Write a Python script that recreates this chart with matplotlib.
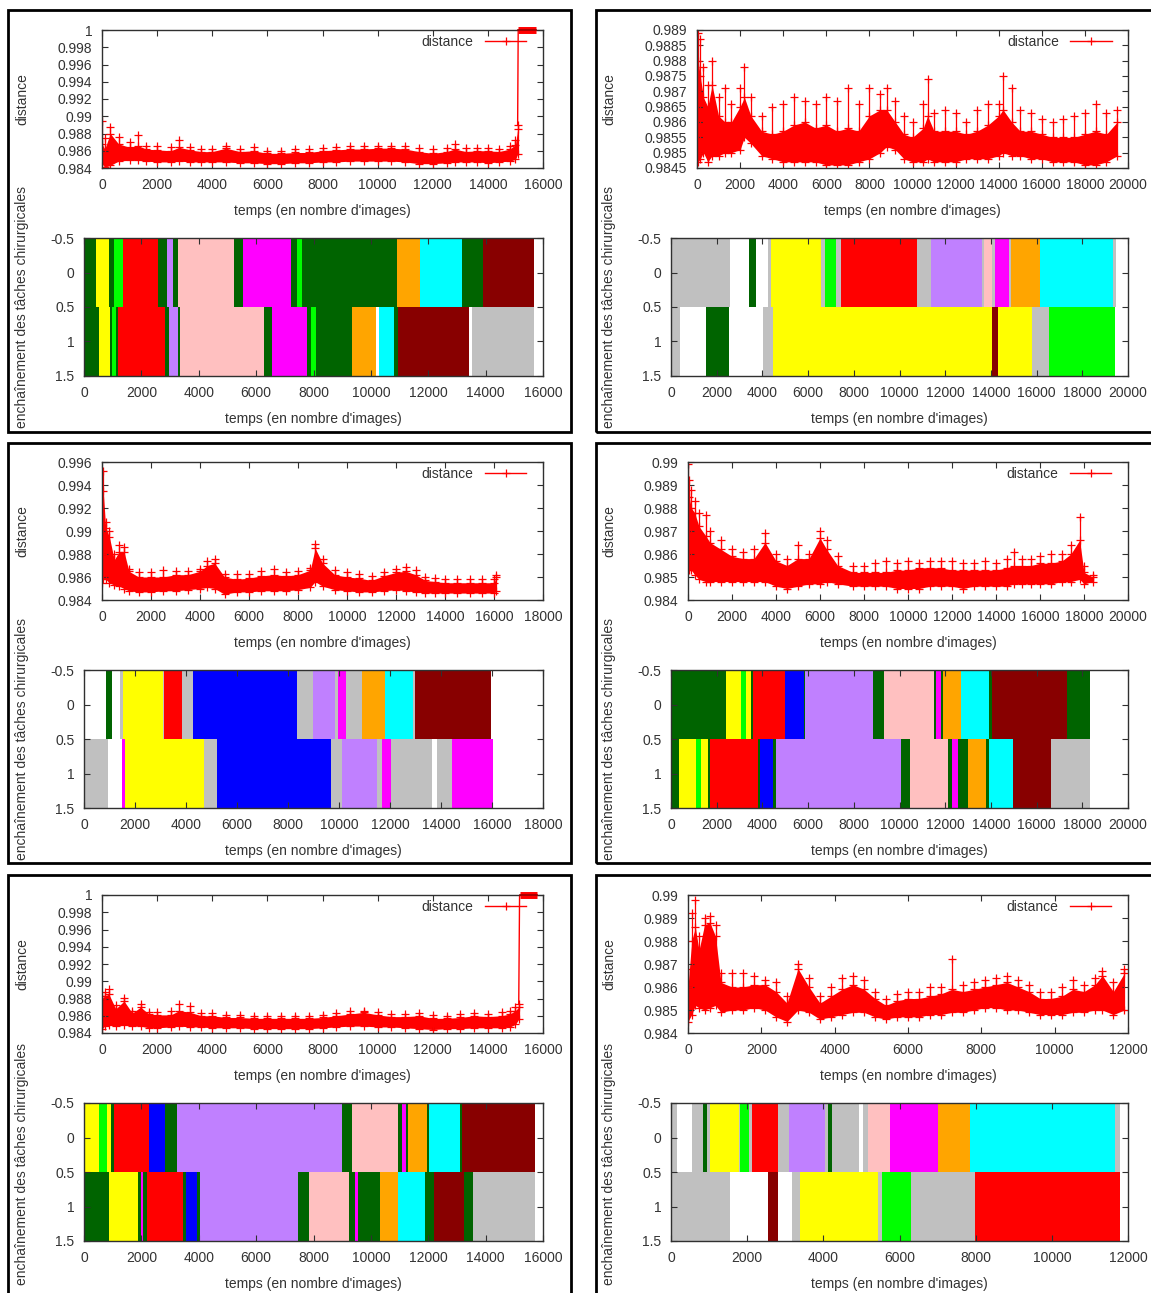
import matplotlib.pyplot as plt
import numpy as np
from matplotlib.lines import Line2D
from matplotlib.patches import Rectangle
from matplotlib.ticker import FuncFormatter, MultipleLocator

plt.rcParams["font.family"] = ["Liberation Sans", "DejaVu Sans"]
TEXT = "#333333"

# ---------------------------------------------------------------- data
# distance curves: sample times, lower edge, dense core, spike tops
p1_t = [0, 100, 300, 600, 1000, 1300, 1600, 2000, 2500, 2800, 3200, 3600, 4000, 4500, 5000, 5500,
        6000, 6500, 7000, 7500, 8000, 8500, 9000, 9500, 10000, 10500, 11000, 11500, 12000, 12500,
        12800, 13200, 13600, 14000, 14400, 14800, 15000, 15080]
p1_lo = [0.9845, 0.9841, 0.9843, 0.9848, 0.9849, 0.9849, 0.9848, 0.9847, 0.9847, 0.9848, 0.9847,
         0.9847, 0.9847, 0.9847, 0.9846, 0.9846, 0.9845, 0.9845, 0.9846, 0.9846, 0.9847, 0.9847,
         0.9848, 0.9848, 0.9848, 0.9848, 0.9847, 0.9845, 0.9845, 0.9846, 0.9847, 0.9847, 0.9847,
         0.9846, 0.9847, 0.9848, 0.9850, 0.9856]
p1_core = [0.9868, 0.9862, 0.9880, 0.9868, 0.9864, 0.9866, 0.9862, 0.9861, 0.9860, 0.9864, 0.9861,
           0.9859, 0.9859, 0.9863, 0.9859, 0.9860, 0.9857, 0.9857, 0.9858, 0.9858, 0.9860, 0.9861,
           0.9862, 0.9862, 0.9863, 0.9863, 0.9862, 0.9859, 0.9857, 0.9859, 0.9862, 0.9859, 0.9860,
           0.9860, 0.9859, 0.9862, 0.9867, 0.9885]
p1_peak = [0.9895, 0.9875, 0.9887, 0.9876, 0.9870, 0.9878, 0.9866, 0.9866, 0.9864, 0.9873, 0.9864,
           0.9862, 0.9862, 0.9866, 0.9862, 0.9864, 0.9860, 0.9860, 0.9862, 0.9862, 0.9863, 0.9864,
           0.9865, 0.9865, 0.9866, 0.9866, 0.9866, 0.9863, 0.9862, 0.9863, 0.9868, 0.9863, 0.9863,
           0.9863, 0.9862, 0.9865, 0.9872, 0.9890]
p1_tail_t = [15100, 15750]
p1_tail_y = [1.0, 1.0]

p2_t = [0, 50, 150, 300, 500, 700, 1000, 1300, 1600, 2000, 2200, 2500, 3000, 3500, 4000, 4500, 5000,
        5500, 6000, 6500, 7000, 7500, 8000, 8500, 8800, 9200, 9600, 10000, 10500, 10700, 11000,
        11500, 12000, 12500, 13000, 13500, 14000, 14200, 14600, 15000, 15500, 16000, 16500, 17000,
        17500, 18000, 18500, 19000, 19500]
p2_lo = [0.9850, 0.9847, 0.9848, 0.9850, 0.9847, 0.9849, 0.9849, 0.9850, 0.9850, 0.9851, 0.9855,
         0.9853, 0.9849, 0.9848, 0.9847, 0.9847, 0.9847, 0.9847, 0.9846, 0.9846, 0.9846, 0.9847,
         0.9848, 0.9850, 0.9852, 0.9851, 0.9848, 0.9847, 0.9847, 0.9848, 0.9847, 0.9847, 0.9847,
         0.9848, 0.9848, 0.9848, 0.9849, 0.9850, 0.9849, 0.9849, 0.9848, 0.9848, 0.9847, 0.9847,
         0.9847, 0.9846, 0.9846, 0.9847, 0.9849]
p2_core = [0.9870, 0.9880, 0.9875, 0.9868, 0.9865, 0.9872, 0.9862, 0.9860, 0.9860, 0.9865, 0.9868,
           0.9862, 0.9857, 0.9856, 0.9857, 0.9859, 0.9860, 0.9858, 0.9859, 0.9857, 0.9858, 0.9857,
           0.9862, 0.9864, 0.9864, 0.9860, 0.9856, 0.9855, 0.9858, 0.9862, 0.9857, 0.9857, 0.9857,
           0.9856, 0.9857, 0.9859, 0.9862, 0.9864, 0.9860, 0.9857, 0.9857, 0.9856, 0.9855, 0.9855,
           0.9855, 0.9856, 0.9857, 0.9856, 0.9860]
p2_peak = [0.9885, 0.9889, 0.9887, 0.9878, 0.9872, 0.9880, 0.9868, 0.9871, 0.9866, 0.9871, 0.9878,
           0.9868, 0.9862, 0.9865, 0.9866, 0.9868, 0.9867, 0.9866, 0.9868, 0.9867, 0.9871, 0.9866,
           0.9871, 0.9869, 0.9871, 0.9867, 0.9862, 0.9860, 0.9866, 0.9874, 0.9863, 0.9864, 0.9863,
           0.9860, 0.9864, 0.9866, 0.9866, 0.9875, 0.9871, 0.9864, 0.9863, 0.9861, 0.9860, 0.9861,
           0.9862, 0.9863, 0.9866, 0.9863, 0.9864]

p3_t = [0, 50, 150, 300, 500, 700, 900, 1100, 1500, 2000, 2500, 3000, 3500, 4000, 4300, 4600, 5000,
        5500, 6000, 6500, 7000, 7500, 8000, 8500, 8700, 9000, 9500, 10000, 10500, 11000, 11500,
        12000, 12400, 12800, 13200, 13600, 14000, 14500, 15000, 15500, 16000, 16100]
p3_lo = [0.9855, 0.9858, 0.9858, 0.9855, 0.9853, 0.9852, 0.9850, 0.9848, 0.9847, 0.9847, 0.9848,
         0.9848, 0.9849, 0.9850, 0.9851, 0.9850, 0.9845, 0.9847, 0.9847, 0.9848, 0.9848, 0.9848,
         0.9849, 0.9851, 0.9856, 0.9852, 0.9849, 0.9848, 0.9847, 0.9847, 0.9848, 0.9849, 0.9848,
         0.9847, 0.9846, 0.9846, 0.9846, 0.9846, 0.9846, 0.9846, 0.9846, 0.9848]
p3_core = [0.9880, 0.9935, 0.9903, 0.9895, 0.9875, 0.9882, 0.9882, 0.9865, 0.9860, 0.9860, 0.9860,
           0.9862, 0.9862, 0.9865, 0.9870, 0.9872, 0.9860, 0.9858, 0.9859, 0.9861, 0.9862, 0.9861,
           0.9862, 0.9866, 0.9885, 0.9872, 0.9862, 0.9860, 0.9859, 0.9857, 0.9861, 0.9864, 0.9865,
           0.9862, 0.9857, 0.9856, 0.9855, 0.9855, 0.9855, 0.9855, 0.9855, 0.9860]
p3_peak = [0.9890, 0.9952, 0.9908, 0.9900, 0.9880, 0.9888, 0.9886, 0.9867, 0.9864, 0.9864, 0.9866,
           0.9865, 0.9865, 0.9867, 0.9874, 0.9876, 0.9863, 0.9863, 0.9863, 0.9865, 0.9867, 0.9864,
           0.9865, 0.9868, 0.9889, 0.9876, 0.9866, 0.9864, 0.9863, 0.9861, 0.9864, 0.9867, 0.9869,
           0.9866, 0.9860, 0.9859, 0.9858, 0.9858, 0.9858, 0.9858, 0.9858, 0.9862]

p4_t = [0, 50, 150, 300, 500, 800, 1000, 1500, 2000, 2500, 3000, 3500, 4000, 4500, 5000, 5500, 6000,
        6300, 6800, 7500, 8000, 8500, 9000, 9500, 10000, 10500, 11000, 11500, 12000, 12500, 13000,
        13500, 14000, 14500, 14800, 15200, 15600, 16000, 16500, 17000, 17400, 17800, 18000, 18400]
p4_lo = [0.9855, 0.9853, 0.9853, 0.9851, 0.9849, 0.9848, 0.9848, 0.9848, 0.9848, 0.9848, 0.9848,
         0.9848, 0.9846, 0.9845, 0.9846, 0.9847, 0.9847, 0.9848, 0.9847, 0.9846, 0.9846, 0.9846,
         0.9846, 0.9845, 0.9845, 0.9845, 0.9846, 0.9846, 0.9846, 0.9845, 0.9846, 0.9846, 0.9846,
         0.9846, 0.9847, 0.9847, 0.9847, 0.9847, 0.9847, 0.9848, 0.9848, 0.9849, 0.9847, 0.9848]
p4_core = [0.9885, 0.9885, 0.9880, 0.9878, 0.9872, 0.9868, 0.9865, 0.9862, 0.9859, 0.9858, 0.9858,
           0.9865, 0.9857, 0.9855, 0.9858, 0.9858, 0.9867, 0.9862, 0.9855, 0.9852, 0.9852, 0.9852,
           0.9852, 0.9853, 0.9853, 0.9854, 0.9854, 0.9854, 0.9853, 0.9853, 0.9853, 0.9853, 0.9853,
           0.9854, 0.9855, 0.9855, 0.9855, 0.9856, 0.9856, 0.9857, 0.9860, 0.9866, 0.9852, 0.9850]
p4_peak = [0.9899, 0.9892, 0.9888, 0.9883, 0.9878, 0.9877, 0.9870, 0.9866, 0.9862, 0.9861, 0.9862,
           0.9869, 0.9860, 0.9858, 0.9864, 0.9860, 0.9870, 0.9866, 0.9859, 0.9855, 0.9855, 0.9856,
           0.9857, 0.9856, 0.9857, 0.9856, 0.9857, 0.9857, 0.9857, 0.9856, 0.9856, 0.9857, 0.9856,
           0.9858, 0.9861, 0.9858, 0.9858, 0.9859, 0.9860, 0.9860, 0.9864, 0.9876, 0.9855, 0.9851]

p5_t = [0, 100, 250, 500, 800, 1100, 1400, 1700, 2000, 2500, 2800, 3200, 3600, 4000, 4500, 5000,
        5500, 6000, 6500, 7000, 7500, 8000, 8500, 9000, 9500, 10000, 10500, 11000, 11500, 12000,
        12500, 13000, 13500, 14000, 14500, 14800, 15000, 15120]
p5_lo = [0.9845, 0.9848, 0.9849, 0.9848, 0.9849, 0.9848, 0.9848, 0.9846, 0.9846, 0.9847, 0.9848,
         0.9847, 0.9847, 0.9846, 0.9846, 0.9846, 0.9845, 0.9845, 0.9845, 0.9845, 0.9845, 0.9846,
         0.9847, 0.9848, 0.9848, 0.9847, 0.9847, 0.9846, 0.9845, 0.9844, 0.9845, 0.9845, 0.9846,
         0.9846, 0.9846, 0.9847, 0.9850, 0.9856]
p5_core = [0.9880, 0.9883, 0.9885, 0.9868, 0.9877, 0.9863, 0.9870, 0.9862, 0.9861, 0.9861, 0.9866,
           0.9864, 0.9860, 0.9860, 0.9858, 0.9858, 0.9857, 0.9857, 0.9857, 0.9857, 0.9857, 0.9858,
           0.9860, 0.9862, 0.9864, 0.9861, 0.9859, 0.9859, 0.9860, 0.9857, 0.9857, 0.9858, 0.9860,
           0.9859, 0.9860, 0.9862, 0.9866, 0.9870]
p5_peak = [0.9883, 0.9888, 0.9891, 0.9872, 0.9881, 0.9866, 0.9874, 0.9864, 0.9864, 0.9865, 0.9874,
           0.9871, 0.9863, 0.9863, 0.9861, 0.9861, 0.9860, 0.9860, 0.9860, 0.9860, 0.9860, 0.9861,
           0.9863, 0.9865, 0.9866, 0.9864, 0.9862, 0.9862, 0.9863, 0.9861, 0.9860, 0.9862, 0.9863,
           0.9862, 0.9864, 0.9866, 0.9870, 0.9874]
p5_tail_t = [15150, 15800]
p5_tail_y = [1.0, 1.0]

p6_t = [0, 100, 200, 300, 450, 600, 750, 900, 1200, 1500, 1800, 2100, 2400, 2700, 3000, 3300, 3600,
        3900, 4200, 4500, 4800, 5100, 5400, 5700, 6000, 6300, 6600, 6900, 7200, 7500, 7800, 8100,
        8400, 8700, 9000, 9300, 9600, 9900, 10200, 10500, 10800, 11100, 11300, 11600, 11900]
p6_lo = [0.9845, 0.9848, 0.9852, 0.9851, 0.9850, 0.9851, 0.9852, 0.9849, 0.9850, 0.9850, 0.9851,
         0.9850, 0.9847, 0.9845, 0.9850, 0.9849, 0.9846, 0.9847, 0.9848, 0.9849, 0.9849, 0.9847,
         0.9846, 0.9847, 0.9847, 0.9847, 0.9848, 0.9848, 0.9849, 0.9849, 0.9850, 0.9851, 0.9851,
         0.9850, 0.9850, 0.9849, 0.9848, 0.9848, 0.9848, 0.9849, 0.9849, 0.9850, 0.9850, 0.9848,
         0.9850]
p6_core = [0.9860, 0.9880, 0.9886, 0.9876, 0.9887, 0.9888, 0.9882, 0.9862, 0.9860, 0.9860, 0.9861,
           0.9861, 0.9858, 0.9853, 0.9868, 0.9860, 0.9853, 0.9856, 0.9859, 0.9861, 0.9859, 0.9855,
           0.9852, 0.9854, 0.9855, 0.9855, 0.9856, 0.9857, 0.9859, 0.9858, 0.9859, 0.9860, 0.9861,
           0.9862, 0.9860, 0.9858, 0.9855, 0.9855, 0.9856, 0.9859, 0.9858, 0.9861, 0.9865, 0.9858,
           0.9866]
p6_peak = [0.9868, 0.9892, 0.9898, 0.9882, 0.9890, 0.9891, 0.9887, 0.9866, 0.9866, 0.9866, 0.9865,
           0.9863, 0.9862, 0.9856, 0.9870, 0.9864, 0.9856, 0.9860, 0.9864, 0.9865, 0.9863, 0.9858,
           0.9855, 0.9857, 0.9858, 0.9858, 0.9860, 0.9860, 0.9872, 0.9861, 0.9862, 0.9863, 0.9864,
           0.9865, 0.9863, 0.9861, 0.9858, 0.9858, 0.9860, 0.9863, 0.9861, 0.9864, 0.9867, 0.9862,
           0.9868]

# task sequences: segment edges (frames) and task of each segment, two rows per video
p1_row0_edges = [0, 420, 880, 1060, 1370, 2590, 2880, 3090, 3290, 5230, 5530, 7210, 7440, 7610,
                 10900, 11700, 13190, 13920, 15690]
p1_row0_tasks = ["dg", "y", "dg", "g", "r", "dg", "pu", "dg", "pk", "dg", "m", "dg", "g", "dg",
                 "o", "c", "dg", "dr"]
p1_row1_edges = [0, 535, 905, 965, 1100, 1175, 2820, 2950, 3290, 3360, 6290, 6550, 7780, 7920,
                 8100, 9330, 10190, 10270, 10800, 10930, 13420, 13540, 15690]
p1_row1_tasks = ["dg", "y", "dg", "g", "dg", "r", "dg", "pu", "dg", "pk", "dg", "m", "dg", "g",
                 "dg", "o", "w", "c", "dg", "dr", "w", "gr"]

p2_row0_edges = [0, 2590, 3420, 3740, 4250, 4370, 6550, 6730, 7210, 7430, 10750, 11360, 13620,
                 13700, 14060, 14160, 14780, 14860, 16140, 19340, 19480]
p2_row0_tasks = ["gr", "w", "dg", "w", "gr", "y", "gr", "g", "gr", "r", "gr", "pu", "gr", "pk",
                 "gr", "m", "gr", "o", "c", "gr"]
p2_row1_edges = [0, 390, 1530, 2520, 4010, 4470, 14060, 14320, 15800, 16530, 19450]
p2_row1_tasks = ["gr", "w", "dg", "w", "gr", "y", "dr", "y", "gr", "g"]

p3_row0_edges = [0, 860, 1090, 1400, 1530, 3080, 3140, 3860, 4280, 8350, 8980, 9840, 9950, 10280,
                 10890, 11810, 12920, 12990, 15970]
p3_row0_tasks = ["w", "dg", "w", "gr", "y", "gr", "r", "gr", "b", "gr", "pu", "gr", "m", "gr",
                 "o", "c", "gr", "dr"]
p3_row1_edges = [0, 930, 1480, 1600, 4710, 5210, 9690, 10100, 11480, 11680, 12020, 13640, 13840,
                 14420, 16050]
p3_row1_tasks = ["gr", "w", "m", "y", "gr", "b", "gr", "pu", "gr", "m", "gr", "w", "gr", "m"]

p4_row0_edges = [0, 2390, 3050, 3270, 3480, 3590, 4990, 5800, 5880, 8830, 9310, 11530, 11610,
                 11810, 11900, 12700, 13920, 14040, 17350, 18330]
p4_row0_tasks = ["dg", "y", "g", "y", "dg", "r", "b", "dg", "pu", "dg", "pk", "dg", "m", "dg",
                 "o", "c", "dg", "dr", "dg"]
p4_row1_edges = [0, 330, 1080, 1320, 1630, 1700, 3810, 3910, 4470, 4600, 10070, 10460, 12120,
                 12280, 12580, 13000, 13800, 13920, 14980, 16640, 18330]
p4_row1_tasks = ["dg", "y", "g", "y", "dg", "r", "dg", "b", "dg", "pu", "dg", "pk", "dg", "m",
                 "dg", "o", "dg", "c", "dr", "gr"]

p5_row0_edges = [0, 520, 790, 940, 1060, 2260, 2820, 3250, 8980, 9330, 10950, 11070, 11220, 11300,
                 11960, 12030, 13100, 13190, 15720]
p5_row0_tasks = ["y", "g", "y", "dg", "r", "b", "dg", "pu", "dg", "pk", "dg", "m", "dg", "o",
                 "dg", "c", "dg", "dr"]
p5_row1_edges = [0, 880, 1890, 1970, 2060, 2180, 3440, 3540, 3930, 4040, 7470, 7850, 9230, 9460,
                 9560, 10330, 10950, 11880, 12190, 13240, 13560, 15720]
p5_row1_tasks = ["dg", "y", "dg", "m", "dg", "r", "dg", "b", "dg", "pu", "dg", "pk", "dg", "m",
                 "dg", "o", "c", "dg", "dr", "dg", "gr"]

p6_row0_edges = [0, 160, 550, 830, 935, 1030, 1775, 1820, 2040, 2115, 2815, 3100, 4050, 4130, 4240,
                 4940, 5050, 5160, 5750, 7010, 7850, 11650, 11800]
p6_row0_tasks = ["gr", "w", "gr", "dg", "gr", "y", "gr", "g", "gr", "r", "gr", "pu", "gr", "dg",
                 "gr", "w", "gr", "pk", "m", "o", "c", "gr"]
p6_row1_edges = [0, 1560, 2560, 2820, 3170, 3380, 5440, 5550, 6310, 7970, 11800]
p6_row1_tasks = ["gr", "w", "dr", "w", "gr", "y", "gr", "g", "gr", "r"]

task_colors = {
    "dg": "#006400", "y": "#ffff00", "g": "#00ff00", "r": "#ff0000", "pu": "#c080ff",
    "pk": "#ffc0c0", "m": "#ff00ff", "o": "#ffa500", "c": "#00ffff", "dr": "#880000",
    "gr": "#c0c0c0", "b": "#0000ff", "w": "#ffffff",
}

# ---------------------------------------------------------------- layout (pixels)
W, H = 1151, 1293


def frac(x0, y0, x1, y1):
    return [x0 / W, 1 - y1 / H, (x1 - x0) / W, (y1 - y0) / H]


panels = [
    dict(t=p1_t, lo=p1_lo, core=p1_core, peak=p1_peak, tail=(p1_tail_t, p1_tail_y),
         ylim=(0.984, 1.0), ystep=0.002, xmax=16000,
         rows=[(p1_row0_edges, p1_row0_tasks), (p1_row1_edges, p1_row1_tasks)],
         top=(102, 30, 543, 168), bot=(84, 238, 543, 376), lab_x=29, bot_mid=307),
    dict(t=p2_t, lo=p2_lo, core=p2_core, peak=p2_peak, tail=None,
         ylim=(0.9845, 0.989), ystep=0.0005, xmax=20000,
         rows=[(p2_row0_edges, p2_row0_tasks), (p2_row1_edges, p2_row1_tasks)],
         top=(697, 30, 1128, 168), bot=(671, 238, 1128, 376), lab_x=616, bot_mid=307),
    dict(t=p3_t, lo=p3_lo, core=p3_core, peak=p3_peak, tail=None,
         ylim=(0.984, 0.996), ystep=0.002, xmax=18000,
         rows=[(p3_row0_edges, p3_row0_tasks), (p3_row1_edges, p3_row1_tasks)],
         top=(102, 462, 543, 600), bot=(84, 670, 543, 808), lab_x=29, bot_mid=739),
    dict(t=p4_t, lo=p4_lo, core=p4_core, peak=p4_peak, tail=None,
         ylim=(0.984, 0.99), ystep=0.001, xmax=20000,
         rows=[(p4_row0_edges, p4_row0_tasks), (p4_row1_edges, p4_row1_tasks)],
         top=(688, 462, 1128, 600), bot=(671, 670, 1128, 808), lab_x=616, bot_mid=739),
    dict(t=p5_t, lo=p5_lo, core=p5_core, peak=p5_peak, tail=(p5_tail_t, p5_tail_y),
         ylim=(0.984, 1.0), ystep=0.002, xmax=16000,
         rows=[(p5_row0_edges, p5_row0_tasks), (p5_row1_edges, p5_row1_tasks)],
         top=(102, 895, 543, 1033), bot=(84, 1103, 543, 1241), lab_x=29, bot_mid=1164),
    dict(t=p6_t, lo=p6_lo, core=p6_core, peak=p6_peak, tail=None,
         ylim=(0.984, 0.99), ystep=0.001, xmax=12000,
         rows=[(p6_row0_edges, p6_row0_tasks), (p6_row1_edges, p6_row1_tasks)],
         top=(688, 895, 1128, 1033), bot=(671, 1103, 1128, 1241), lab_x=616, bot_mid=1164),
]

boxes = [(8, 10, 571, 432), (596, 10, 1170, 432), (8, 443, 571, 863), (596, 443, 1170, 863),
         (8, 875, 571, 1310), (596, 875, 1170, 1310)]

fmt_g = FuncFormatter(lambda v, pos: f"{v:g}")
XLABEL = "temps (en nombre d'images)"
FS = 10

fig = plt.figure(figsize=(W / 100, H / 100), dpi=100)


def style_axes(ax):
    for s in ax.spines.values():
        s.set_color("#303030")
        s.set_linewidth(1.0)
    ax.tick_params(direction="in", length=4, width=0.8, top=True, right=True,
                   labelsize=FS, labelcolor=TEXT, color="#303030", pad=7)
    ax.xaxis.set_major_locator(MultipleLocator(2000))
    ax.xaxis.set_major_formatter(fmt_g)
    ax.yaxis.set_major_formatter(fmt_g)


for p in panels:
    # distance curve
    ax = fig.add_axes(frac(*p["top"]))
    t = np.array(p["t"])
    ax.fill_between(t, p["lo"], p["core"], color="#ff0000", lw=0)
    ax.vlines(t, p["lo"], p["peak"], color="#ff0000", lw=0.9)
    for series in (p["lo"], p["core"], p["peak"]):
        ax.plot(t, series, ls="none", color="#ff0000", marker="+", ms=6, mew=0.9)
    if p["tail"] is not None:
        tail_t, tail_y = p["tail"]
        ax.plot([t[-1], tail_t[0]], [p["peak"][-1], tail_y[0]], color="#ff0000", lw=1.0)
        ax.plot(tail_t, tail_y, color="#ff0000", lw=5, clip_on=False,
                solid_capstyle="butt", zorder=4)
        ax.plot(tail_t, tail_y, color="#990000", lw=1.2, clip_on=False, zorder=5)
    ax.set_xlim(0, p["xmax"])
    ax.set_ylim(*p["ylim"])
    style_axes(ax)
    ax.yaxis.set_major_locator(MultipleLocator(p["ystep"]))
    ax.set_xlabel(XLABEL, fontsize=FS, color=TEXT, labelpad=9)
    ax.set_ylabel("distance", fontsize=FS, color=TEXT)
    ax.yaxis.set_label_coords((p["lab_x"] - p["top"][0]) / (p["top"][2] - p["top"][0]), 0.5)
    handle = Line2D([], [], color="#ff0000", lw=1, marker="+", ms=6, mew=0.9)
    ax.legend([handle], ["distance"], loc="upper right", frameon=False, markerfirst=False,
              fontsize=FS, handlelength=3.0, borderaxespad=0.0, labelcolor=TEXT,
              bbox_to_anchor=(0.975, 1.005))

    # task sequence
    bx = fig.add_axes(frac(*p["bot"]))
    for row, (edges, tasks) in enumerate(p["rows"]):
        e = np.array(edges)
        bx.barh([row] * len(tasks), np.diff(e), left=e[:-1], height=1.0,
                color=[task_colors[k] for k in tasks], lw=0)
    bx.set_xlim(0, p["xmax"])
    bx.set_ylim(1.5, -0.5)
    style_axes(bx)
    bx.set_yticks([-0.5, 0, 0.5, 1, 1.5])
    bx.set_xlabel(XLABEL, fontsize=FS, color=TEXT, labelpad=9)
    bx.set_ylabel("enchaînement des tâches chirurgicales", fontsize=FS, color=TEXT)
    bot_y = (p["bot"][3] - p["bot_mid"]) / (p["bot"][3] - p["bot"][1])
    bx.yaxis.set_label_coords((p["lab_x"] - p["bot"][0]) / (p["bot"][2] - p["bot"][0]), bot_y)

for x0, y0, x1, y1 in boxes:
    fig.add_artist(Rectangle((x0 / W, 1 - y1 / H), (x1 - x0) / W, (y1 - y0) / H,
                             transform=fig.transFigure, fill=False, ec="black", lw=2))

fig.savefig("out.png", dpi=100)
